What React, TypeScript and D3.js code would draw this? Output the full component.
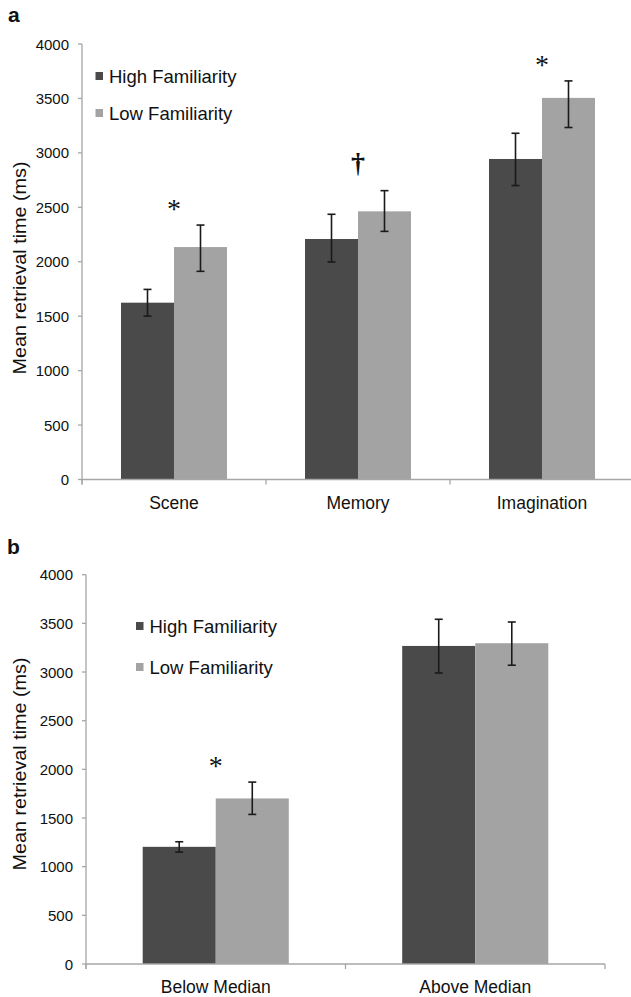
import React from 'react';
import * as d3 from 'd3';

const seriesNames = ['High Familiarity', 'Low Familiarity'];
const seriesColors = ['#4a4a4a', '#a3a3a3'];
const yTicks = [0, 500, 1000, 1500, 2000, 2500, 3000, 3500, 4000];

// panel a
const catsA = ['Scene', 'Memory', 'Imagination'];
const highA = [1624, 2209, 2944];
const highALo = [1501, 1998, 2700];
const highAHi = [1746, 2436, 3180];
const lowA = [2135, 2463, 3505];
const lowALo = [1912, 2279, 3233];
const lowAHi = [2337, 2653, 3661];
const marksA = ['*', '†', '*'];

// panel b
const catsB = ['Below Median', 'Above Median'];
const highB = [1204, 3268];
const highBLo = [1150, 2990];
const highBHi = [1256, 3542];
const lowB = [1701, 3296];
const lowBLo = [1537, 3070];
const lowBHi = [1869, 3514];
const marksB = ['*', ''];

const font = '"Liberation Sans", Arial, sans-serif';
const serif = '"Liberation Serif", "Times New Roman", serif';
const axisColor = '#a6a6a6';

type PanelProps = {
  label: string;
  labelY: number;
  cats: string[];
  high: number[];
  highLo: number[];
  highHi: number[];
  low: number[];
  lowLo: number[];
  lowHi: number[];
  marks: string[];
  top: number;
  bottom: number;
  left: number;
  right: number;
  barFrac: number;
  legendX: number;
  legendY: number[];
  titleY: number;
};

function Panel(p: PanelProps) {
  const y = d3.scaleLinear().domain([0, 4000]).range([p.bottom, p.top]);
  const x0 = d3.scaleBand<string>().domain(p.cats).range([p.left, p.right]).padding(0);
  const x1 = d3
    .scaleBand<string>()
    .domain(seriesNames)
    .range([0, x0.bandwidth()])
    .paddingInner(0)
    .paddingOuter(1 / p.barFrac - 1);

  const values = [p.high, p.low];
  const los = [p.highLo, p.lowLo];
  const his = [p.highHi, p.lowHi];
  const xTickPos = [...p.cats.map(c => x0(c)!), p.right];

  return (
    <g>
      <text x={p.label === 'a' ? 8 : 7} y={p.labelY} fontFamily={font} fontWeight="bold" fontSize={21} fill="#111">
        {p.label}
      </text>

      {/* bars */}
      {p.cats.map((c, i) => (
        <g key={c} transform={`translate(${x0(c)},0)`}>
          {seriesNames.map((s, j) => (
            <rect
              key={s}
              x={x1(s)}
              y={y(values[j][i])}
              width={x1.bandwidth()}
              height={y(0) - y(values[j][i])}
              fill={seriesColors[j]}
            />
          ))}
          {seriesNames.map((s, j) => {
            const cx = x1(s)! + x1.bandwidth() / 2;
            return (
              <g key={s + 'err'} stroke="#1a1a1a" strokeWidth={1.6}>
                <line x1={cx} x2={cx} y1={y(his[j][i])} y2={y(los[j][i])} />
                <line x1={cx - 4} x2={cx + 4} y1={y(his[j][i])} y2={y(his[j][i])} />
                <line x1={cx - 4} x2={cx + 4} y1={y(los[j][i])} y2={y(los[j][i])} />
              </g>
            );
          })}
          {p.marks[i] === '*' && (
            <text
              x={x0.bandwidth() / 2}
              y={y(Math.max(his[0][i], his[1][i])) - 7}
              textAnchor="middle"
              fontFamily={serif}
              fontSize={28}
              fill="#111"
            >
              *
            </text>
          )}
          {p.marks[i] === '†' && (
            <text
              x={x0.bandwidth() / 2}
              y={y(Math.max(his[0][i], his[1][i])) - 19}
              textAnchor="middle"
              fontFamily={serif}
              fontWeight="bold"
              fontSize={28}
              fill="#111"
            >
              †
            </text>
          )}
        </g>
      ))}

      {/* y axis */}
      <line x1={p.left} x2={p.left} y1={y(4000)} y2={y(0) + 5} stroke={axisColor} strokeWidth={1.3} />
      {yTicks.map(t => (
        <g key={t}>
          <line x1={p.left - 4} x2={p.left} y1={y(t)} y2={y(t)} stroke={axisColor} strokeWidth={1.3} />
          <text
            x={p.left - 13}
            y={y(t)}
            textAnchor="end"
            dominantBaseline="central"
            fontFamily={font}
            fontSize={15}
            fill="#111"
          >
            {t}
          </text>
        </g>
      ))}
      <text
        transform={`translate(26,${p.titleY}) rotate(-90)`}
        textAnchor="middle"
        fontFamily={font}
        fontSize={18}
        textLength={213}
        lengthAdjust="spacingAndGlyphs"
        fill="#111"
      >
        Mean retrieval time (ms)
      </text>

      {/* x axis */}
      <line x1={p.left} x2={p.right} y1={y(0)} y2={y(0)} stroke={axisColor} strokeWidth={1.3} />
      {xTickPos.map((tx, i) => (
        <line key={i} x1={tx} x2={tx} y1={y(0)} y2={y(0) + 5} stroke={axisColor} strokeWidth={1.3} />
      ))}
      {p.cats.map(c => (
        <text
          key={c}
          x={x0(c)! + x0.bandwidth() / 2}
          y={y(0) + 29}
          textAnchor="middle"
          fontFamily={font}
          fontSize={17.5}
          fill="#111"
        >
          {c}
        </text>
      ))}

      {/* legend */}
      {seriesNames.map((s, j) => (
        <g key={s}>
          <rect x={p.legendX} y={p.legendY[j] - 4} width={7.5} height={8} fill={seriesColors[j]} />
          <text
            x={p.legendX + 13.5}
            y={p.legendY[j]}
            dominantBaseline="central"
            fontFamily={font}
            fontSize={18.5}
            fill="#111"
          >
            {s}
          </text>
        </g>
      ))}
    </g>
  );
}

export default function App() {
  return (
    <svg
      width={631}
      height={997}
      style={{ position: 'absolute', left: 0, top: 0, background: '#fff' }}
    >
      <rect width={631} height={997} fill="#fff" />
      <Panel
        label="a"
        labelY={22}
        cats={catsA}
        high={highA}
        highLo={highALo}
        highHi={highAHi}
        low={lowA}
        lowLo={lowALo}
        lowHi={lowAHi}
        marks={marksA}
        top={44}
        bottom={479.5}
        left={82}
        right={634}
        barFrac={0.576}
        legendX={95.5}
        legendY={[76, 113]}
        titleY={268}
      />
      <Panel
        label="b"
        labelY={554}
        cats={catsB}
        high={highB}
        highLo={highBLo}
        highHi={highBHi}
        low={lowB}
        lowLo={lowBLo}
        lowHi={lowBHi}
        marks={marksB}
        top={574.7}
        bottom={964}
        left={86}
        right={605}
        barFrac={0.563}
        legendX={136}
        legendY={[626, 667]}
        titleY={764}
      />
    </svg>
  );
}
